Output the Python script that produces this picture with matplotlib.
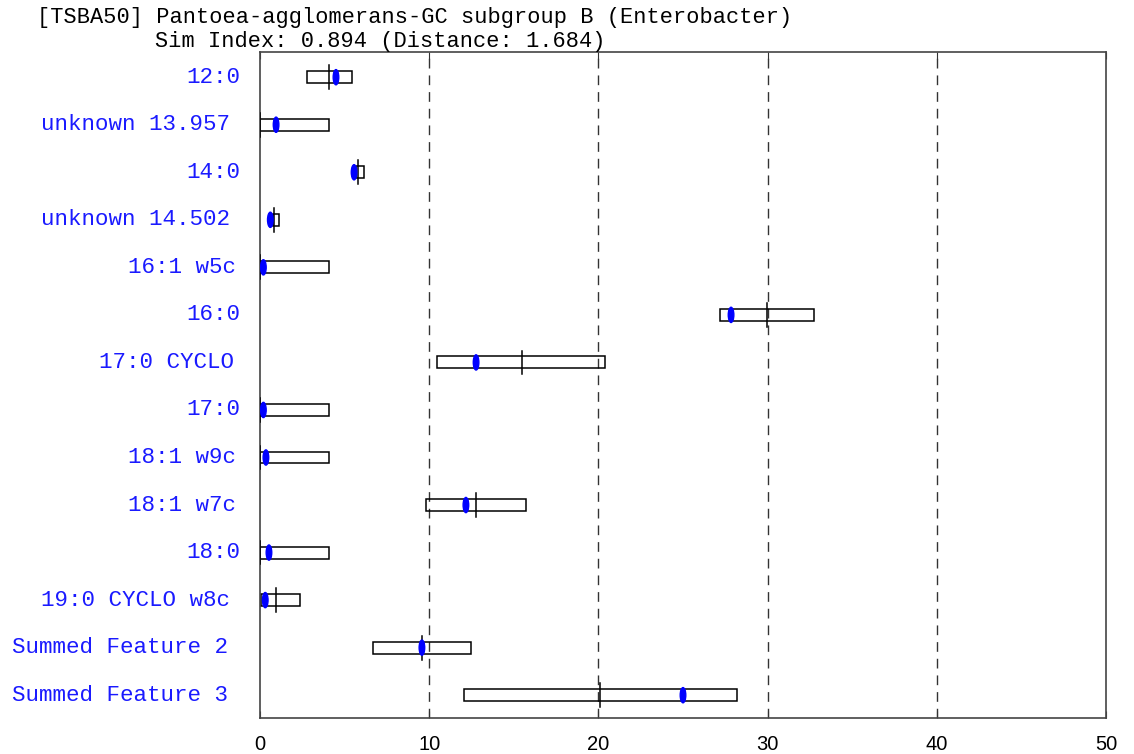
import matplotlib
matplotlib.use("Agg")
import matplotlib.pyplot as plt
import matplotlib.transforms as mtransforms
from matplotlib.patches import Rectangle, Ellipse

# Data
labels = ["12:0", "unknown 13.957", "14:0", "unknown 14.502", "16:1 w5c", "16:0",
          "17:0 CYCLO", "17:0", "18:1 w9c", "18:1 w7c", "18:0", "19:0 CYCLO w8c",
          "Summed Feature 2", "Summed Feature 3"]
box_lo = [2.76, 0.0, 5.67, 0.75, 0.0, 27.19, 10.48, 0.0, 0.0, 9.79, 0.0, 0.08, 6.66, 12.04]
box_hi = [5.42, 4.06, 6.17, 1.12, 4.06, 32.76, 20.41, 4.06, 4.06, 15.74, 4.06, 2.36, 12.49, 28.19]
means = [4.10, 0.0, 5.81, 0.85, 0.0, 29.98, 15.46, 0.0, 0.0, 12.79, 0.0, 0.96, 9.59, 20.07]
sample = [4.49, 0.95, 5.56, 0.61, 0.20, 27.84, 12.77, 0.20, 0.35, 12.17, 0.53, 0.31, 9.57, 25.0]
xticks = [0, 10, 20, 30, 40, 50]

title1 = "[TSBA50] Pantoea-agglomerans-GC subgroup B (Enterobacter)"
title2 = "Sim Index: 0.894 (Distance: 1.684)"

fig = plt.figure(figsize=(11.34, 7.54), dpi=100)
ax = fig.add_axes([260/1134, 1 - 718/754, (1106-260)/1134, (718-52)/754])

ax.set_xlim(0, 50)
ax.set_ylim(13.48, -0.53)

# dashed gridlines
for xv in xticks[1:-1]:
    ax.axvline(xv, color="#333333", lw=1.0, dashes=(7, 5), zorder=1)

for i in range(len(labels)):
    ax.add_patch(Rectangle((box_lo[i], i - 0.125), box_hi[i] - box_lo[i], 0.25,
                           fill=False, edgecolor="black", lw=1.1, zorder=2))
    ax.plot([means[i], means[i]], [i - 0.25, i + 0.25], color="black", lw=1.1, zorder=3)
    ax.add_patch(Ellipse((sample[i], i), 0.33, 0.32, color="#0000ff", zorder=4))

# row labels, monospace blue
for i, lab in enumerate(labels):
    off = mtransforms.ScaledTranslation(-(16 + len(lab)) / 100, 0, fig.dpi_scale_trans)
    tr = mtransforms.blended_transform_factory(ax.transAxes, ax.transData) + off
    ax.text(0, i, lab, transform=tr, ha="right", va="center", color="#1a1aff",
            fontsize=16.2, family="Liberation Mono")

ax.set_yticks([])
ax.set_xticks(xticks)
ax.set_xticklabels([str(t) for t in xticks], family="Liberation Sans", fontsize=14.5)
ax.tick_params(axis="x", direction="in", length=5, top=True, bottom=True, pad=12,
               color="#333333")

for sp in ax.spines.values():
    sp.set_color("#444444")
    sp.set_linewidth(1.2)

fig.text(37/1134, 1 - 18/754, title1, ha="left", va="center", fontsize=15.8,
         family="Liberation Mono")
fig.text(155/1134, 1 - 42/754, title2, ha="left", va="center", fontsize=15.8,
         family="Liberation Mono")

fig.savefig("out.png", dpi=100)
